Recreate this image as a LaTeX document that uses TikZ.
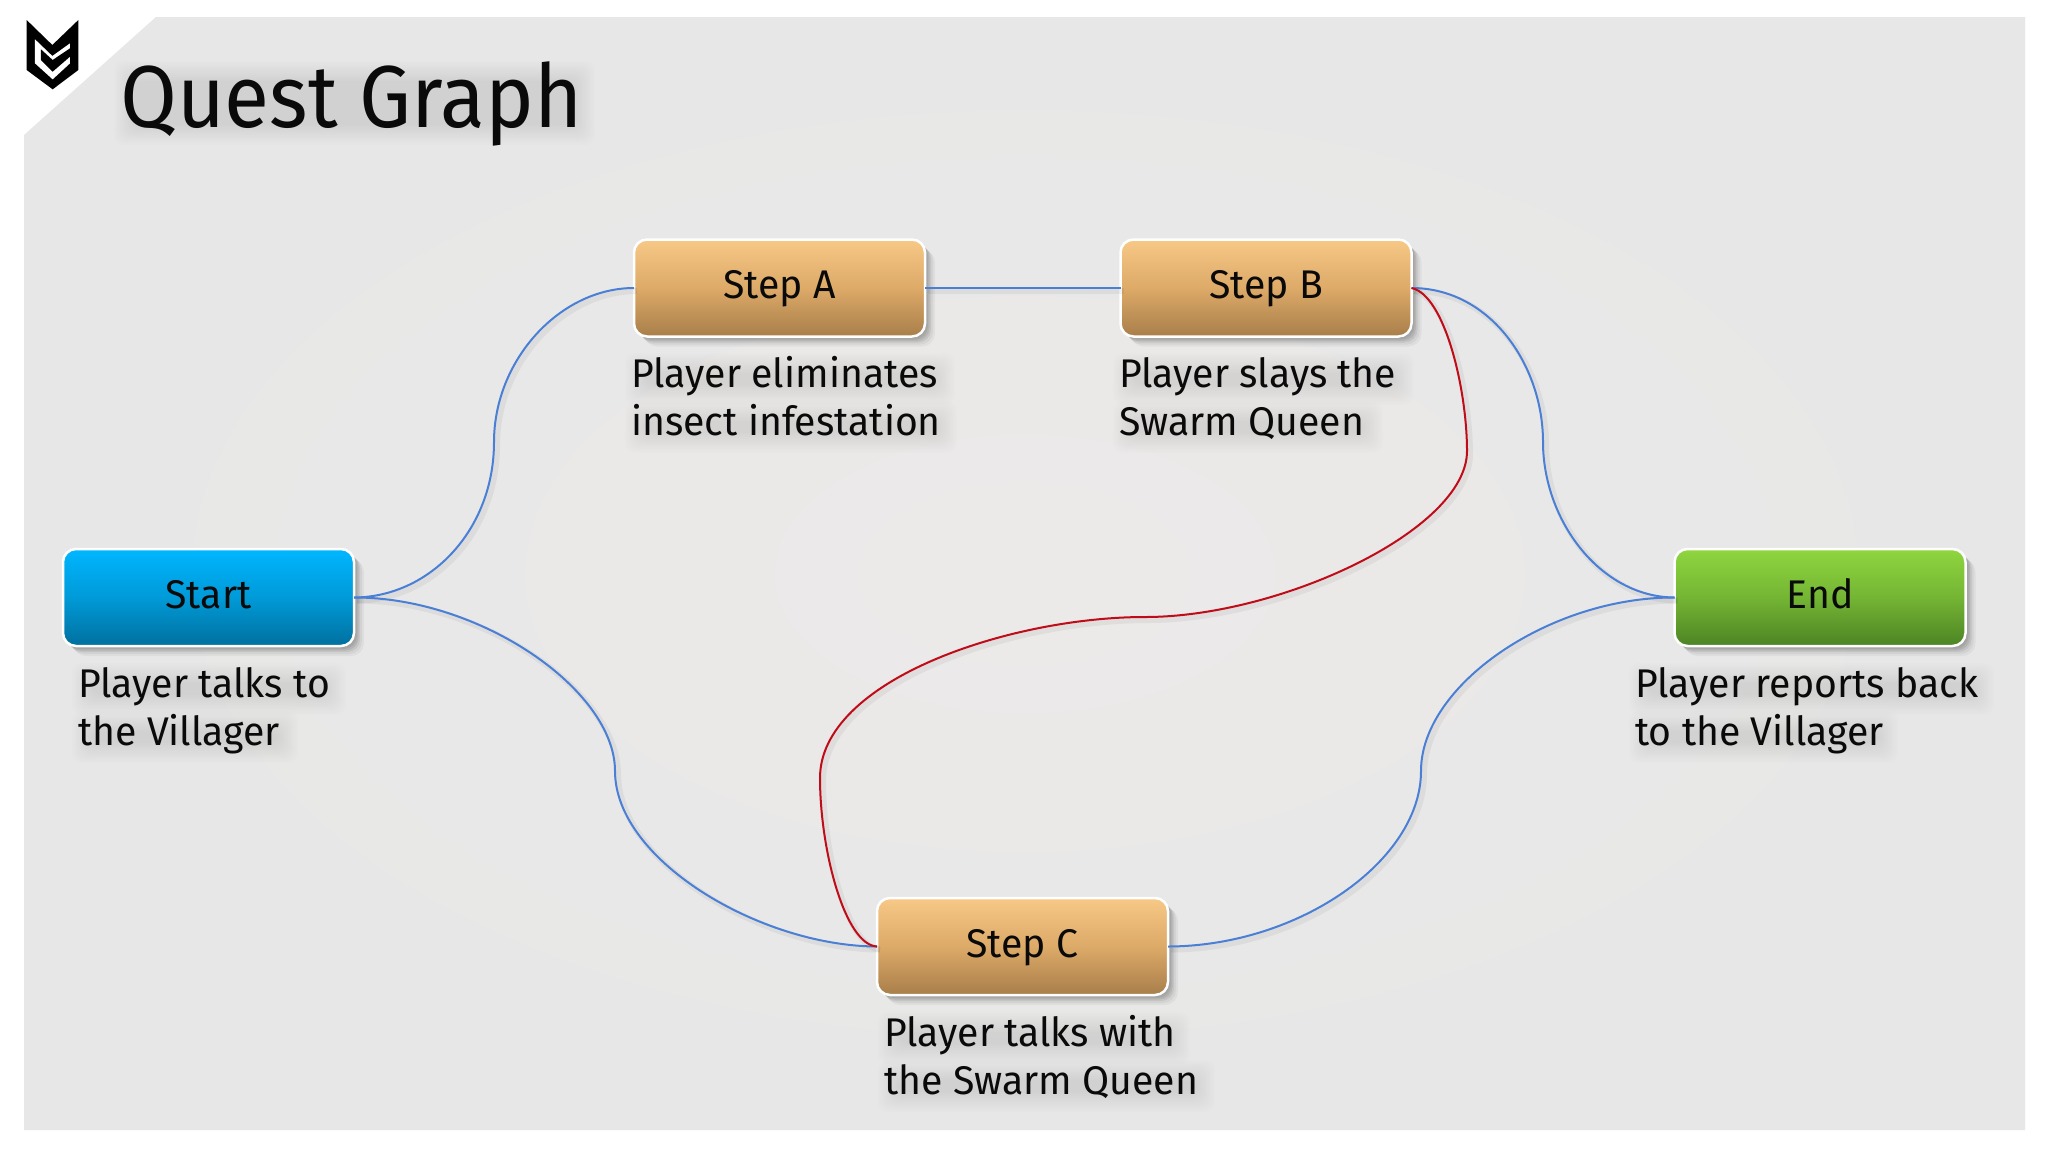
\documentclass[tikz,border=0pt]{standalone}
\usepackage{fontspec}
\setmainfont[FakeStretch=0.98]{Fira Sans}
\newfontfamily\titlefamily[FakeStretch=0.935]{Fira Sans}
\usetikzlibrary{shadows}
\definecolor{panelgray}{HTML}{E7E7E7}
\definecolor{panelmid}{HTML}{ECEAE9}
\definecolor{wireblue}{HTML}{4A7FD6}
\definecolor{wirered}{HTML}{C00C18}
\definecolor{inkdark}{HTML}{0A0A0A}
\tikzset{
  softshadow/.style={
    general shadow={fill=black,fill opacity=.05,draw=none,shadow xshift=1.5pt,shadow yshift=-1.5pt},
    general shadow={fill=black,fill opacity=.07,draw=none,shadow xshift=3pt,shadow yshift=-3pt},
    general shadow={fill=black,fill opacity=.07,draw=none,shadow xshift=4.5pt,shadow yshift=-4.5pt},
    general shadow={fill=black,fill opacity=.07,draw=none,shadow xshift=6pt,shadow yshift=-6pt},
    general shadow={fill=black,fill opacity=.05,draw=none,shadow xshift=8pt,shadow yshift=-8pt},
    general shadow={fill=black,fill opacity=.04,draw=none,shadow xshift=10pt,shadow yshift=-10pt}},
  questbox/.style={rectangle,rounded corners=13pt,draw=white,line width=2.5pt,
    minimum width=291pt,minimum height=97pt,inner sep=0pt,outer sep=0pt,
    text height=28pt,text depth=7pt,text=inkdark,font=\fontsize{40}{40}\selectfont,softshadow},
  stepbox/.style={questbox,top color=stepT,bottom color=stepB,middle color=stepM},
  startbox/.style={questbox,top color=startT,bottom color=startB,middle color=startM},
  endbox/.style={questbox,top color=endT,bottom color=endB,middle color=endM},
  caption/.style={anchor=base west,align=left,inner sep=0pt,text=inkdark,
    font=\fontsize{40}{48}\selectfont},
  wire/.style={line width=2pt,preaction={draw=black,draw opacity=.05,line width=6pt,transform canvas={shift={(3pt,-3pt)}}}},
  bluewire/.style={wire,draw=wireblue},
  redwire/.style={wire,draw=wirered},
  titletext/.style={anchor=base west,inner sep=0pt,text=inkdark,font=\titlefamily\fontsize{88}{88}\selectfont},
  smudge/.style={fill=black,fill opacity=.006,rounded corners=10pt},
}
\definecolor{stepT}{HTML}{F7C886}\definecolor{stepM}{HTML}{DDAA68}\definecolor{stepB}{HTML}{A87E4A}
\definecolor{startT}{HTML}{00B6FF}\definecolor{startM}{HTML}{009AD8}\definecolor{startB}{HTML}{00709E}
\definecolor{endT}{HTML}{8FD63F}\definecolor{endM}{HTML}{74B534}\definecolor{endB}{HTML}{4C8424}
% very soft drop shadow behind one line of text: x from, x to, baseline, cap height
\newcommand{\softband}[4]{%
  \foreach \g in {-8,-6,...,12}{\fill[smudge] (#1+6-\g,#3-#4+6-\g) rectangle (#2+6+\g,#3+6+\g);}}
\begin{document}
\begin{tikzpicture}[x=1pt,y=-1pt]
\useasboundingbox (0,0) rectangle (2048,1152);
\fill[white] (0,0) rectangle (2048,1152);
\shade[inner color=panelmid,outer color=panelgray] (156,17) -- (2025,17) -- (2025,1130) -- (24,1130) -- (24,135) -- cycle;
% logo
\begin{scope}[shift={(15,10)},x=0.3333pt,y=-0.3333pt]
\fill[black] (35,30) -- (112,105) -- (190,30) -- (190,180) -- (113,238) -- (35,180) -- cycle;
\fill[white] (60,88) -- (112,138) -- (165,100) -- (165,160) -- (113,208) -- (60,160) -- cycle;
\fill[black] (78,118) -- (113,150) -- (165,115) -- (165,140) -- (113,185) -- (78,150) -- cycle;
\end{scope}
% text shadows
\softband{120}{577}{127}{60}
\softband{78}{328}{697}{28}\softband{78}{280}{745}{28}
\softband{631}{937}{387}{28}\softband{631}{939}{435}{28}
\softband{1119}{1396}{387}{28}\softband{1119}{1365}{435}{28}
\softband{1635}{1976}{697}{28}\softband{1635}{1880}{745}{28}
\softband{884}{1172}{1046}{28}\softband{884}{1197}{1094}{28}
% title
\node[titletext] (title) at (120,127) {Quest Graph};
% midpoints of the connectors
\coordinate (m1) at (494,442);
\coordinate (m2) at (615,771);
\coordinate (m3) at (1543,442);
\coordinate (m4) at (1421,771);
\coordinate (r1) at (1467,451);
\coordinate (r2) at (1145,617);
\coordinate (r3) at (820,778);
% boxes
\node[startbox] (start) at (208.5,597.5) {Start};
\node[stepbox] (a) at (779.5,288) {Step A};
\node[stepbox] (b) at (1266,288) {Step B};
\node[stepbox] (c) at (1022.5,946.5) {Step C};
\node[endbox] (end) at (1820,597.5) {End};
% connectors
\draw[bluewire] (start.east) .. controls (430,597) and (494,530) .. (m1) .. controls (494,360) and (560,288) .. (a.west);
\draw[bluewire] (start.east) .. controls (480,597) and (615,690) .. (m2) .. controls (615,860) and (760,946) .. (c.west);
\draw[bluewire] (a.east) -- (b.west);
\draw[bluewire] (b.east) .. controls (1490,288) and (1543,365) .. (m3) .. controls (1543,520) and (1600,597) .. (end.west);
\draw[bluewire] (c.east) .. controls (1300,946) and (1421,860) .. (m4) .. controls (1421,685) and (1550,597) .. (end.west);
\draw[redwire] (b.east) .. controls (1445,295) and (1467,390) .. (r1) .. controls (1467,530) and (1280,617) .. (r2) .. controls (1010,617) and (820,680) .. (r3) .. controls (820,850) and (845,945) .. (c.west);
% captions (anchor is the baseline of the last line)
\node[caption] (capstart) at (78,745) {Player talks to\\the Villager};
\node[caption] (capa) at (631,435) {Player eliminates\\insect infestation};
\node[caption] (capb) at (1119,435) {Player slays the\\Swarm Queen};
\node[caption] (capend) at (1635,745) {Player reports back\\to the Villager};
\node[caption] (capc) at (884,1094) {Player talks with\\the Swarm Queen};
\end{tikzpicture}
\end{document}
